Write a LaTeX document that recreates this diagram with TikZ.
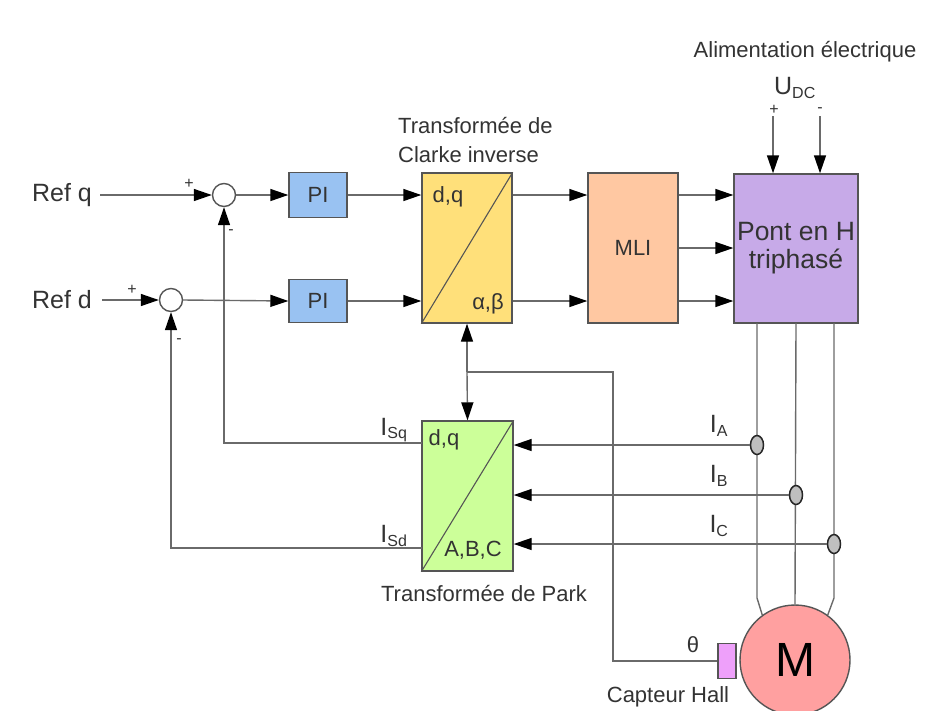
\documentclass[tikz,border=0pt]{standalone}
\usepackage{fontspec}
\setmainfont{Liberation Sans}
\usetikzlibrary{arrows.meta,shapes.geometric}
\definecolor{linegray}{HTML}{6A6A6A}
\definecolor{boxgray}{HTML}{555555}
\definecolor{txt}{HTML}{333333}
\definecolor{piblue}{HTML}{99C2F2}
\definecolor{clarkey}{HTML}{FFE07A}
\definecolor{mlipeach}{HTML}{FFC8A2}
\definecolor{pontviolet}{HTML}{C7AAE8}
\definecolor{parkgreen}{HTML}{CCFF99}
\definecolor{motorred}{HTML}{FFA0A0}
\definecolor{hallviolet}{HTML}{EEA0FA}
\begin{document}
\begin{tikzpicture}[x=1pt,y=-1pt,
  line/.style={draw=linegray, line width=1.4pt},
  arr/.style={line, -{Triangle[length=18pt,width=12pt,fill=black,color=black]}},
  blk/.style={draw=boxgray, line width=1.4pt, inner sep=0pt, text=txt},
  lbl/.style={text=txt, inner sep=0pt, font=\fontsize{22}{26}\selectfont},
  big/.style={text=txt, inner sep=0pt, font=\fontsize{25}{29}\selectfont},
  sumc/.style={circle, draw=boxgray, fill=white, line width=1.4pt, minimum size=23pt, inner sep=0pt},
  sensor/.style={ellipse, draw=black!85, fill=gray!50, line width=1.5pt, minimum width=13pt, minimum height=19pt, inner sep=0pt}]
\useasboundingbox (0,0) rectangle (925,710);

% inputs and summers
\node[big] (refq) at (62,195) {Ref q};
\node[big] (refd) at (62,300) {Ref d};
\node[sumc] (sq) at (224,195) {};
\node[sumc] (sd) at (171,300) {};
\node[lbl, font=\fontsize{16}{18}\selectfont] (pq) at (189,184) {+};
\node[lbl, font=\fontsize{16}{18}\selectfont] (mq) at (231,232) {-};
\node[lbl, font=\fontsize{16}{18}\selectfont] (pd) at (132,290) {+};
\node[lbl, font=\fontsize{16}{18}\selectfont] (md) at (179,341) {-};

% blocks
\node[blk, fill=piblue, minimum width=58pt, minimum height=45pt, font=\fontsize{22}{26}\selectfont] (piq) at (318,195) {PI};
\node[blk, fill=piblue, minimum width=58pt, minimum height=43pt, font=\fontsize{22}{26}\selectfont] (pid) at (318,301) {PI};
\node[blk, fill=clarkey, minimum width=90pt, minimum height=150pt] (clarke) at (467,248) {};
\node[blk, fill=mlipeach, minimum width=90pt, minimum height=150pt, font=\fontsize{22}{26}\selectfont] (mli) at (633,248) {MLI};
\node[blk, fill=pontviolet, minimum width=124pt, minimum height=149pt, align=center, font=\fontsize{26.5}{28}\selectfont] (pont) at (796,248.5) {Pont en H\\triphasé};
\node[blk, fill=parkgreen, minimum width=91pt, minimum height=150pt] (park) at (467.5,496) {};
\draw[draw=boxgray, line width=1.1pt] (clarke.south west) -- (clarke.north east);
\draw[draw=boxgray, line width=1.1pt] (park.south west) -- (park.north east);
\node[lbl] (cdq) at (448,197) {d,q};
\node[lbl] (cab) at (488,304) {α,β};
\node[lbl] (kdq) at (444,440) {d,q};
\node[lbl] (kabc) at (473,550) {A,B,C};

\node[lbl, anchor=west, align=left, font=\fontsize{22}{29}\selectfont] (tclarke) at (398,140) {Transformée de\\Clarke inverse};
\node[lbl] (tpark) at (484,593) {Transformée de Park};
\node[lbl] (talim) at (805,52) {Alimentation électrique};
\node[big] (udc) at (795,88) {U\textsubscript{\fontsize{16}{18}\selectfont DC}};
\node[lbl, font=\fontsize{16}{18}\selectfont] (up) at (774,110) {+};
\node[lbl, font=\fontsize{16}{18}\selectfont] (um) at (820,110) {-};

% forward path
\draw[arr] (refq.east) ++(8,0) -- (sq.west);
\draw[arr] (refd.east) ++(10,0) -- (sd.west);
\draw[arr] (sq.east) -- (piq.west);
\draw[arr] (sd.east) -- (pid.west);
\draw[arr] (piq.east) -- (piq -| clarke.west);
\draw[arr] (pid.east) -- (pid -| clarke.west);
\draw[arr] (clarke.east |- piq) -- (mli.west |- piq);
\draw[arr] (clarke.east |- pid) -- (mli.west |- pid);
\draw[arr] (mli.east |- piq) -- (pont.west |- piq);
\draw[arr] (mli.east) -- (pont.west |- mli);
\draw[arr] (mli.east |- pid) -- (pont.west |- pid);

% DC supply
\coordinate (u1) at (773,116);
\coordinate (u2) at (820,116);
\draw[arr] (u1) -- (u1 |- pont.north);
\draw[arr] (u2) -- (u2 |- pont.north);

% motor and phases
\node[circle, draw=boxgray, fill=motorred, line width=1.4pt, minimum size=110pt, inner sep=0pt, font=\fontsize{48}{50}\selectfont] (motor) at (795,660) {M};
\coordinate (p1) at (757,323);
\coordinate (p2) at (796,323);
\coordinate (p3) at (834,323);
\draw[line] (p1) -- (757,598) -- (motor.126);
\draw[line] (p2) -- (motor.north);
\draw[line] (p3) -- (834,598) -- (motor.54);

% current sensors
\node[sensor] (sa) at (757,445) {};
\node[sensor] (sb) at (796,495) {};
\node[sensor] (sc) at (834,544) {};
\draw[arr] (sa.west) -- (sa -| park.east);
\draw[arr] (sb.west) -- (sb -| park.east);
\draw[arr] (sc.west) -- (sc -| park.east);
\node[big] (la) at (719,426) {I\textsubscript{\fontsize{16}{18}\selectfont A}};
\node[big] (lb) at (719,476) {I\textsubscript{\fontsize{16}{18}\selectfont B}};
\node[big] (lc) at (719,526) {I\textsubscript{\fontsize{16}{18}\selectfont C}};

% feedback
\coordinate (isq) at (422,443);
\coordinate (isd) at (422,548);
\draw[arr] (isq) -| (sq.south);
\draw[arr] (isd) -| (sd.south);
\node[big] (lsq) at (394,430) {I\textsubscript{\fontsize{16}{18}\selectfont Sq}};
\node[big] (lsd) at (394,536) {I\textsubscript{\fontsize{16}{18}\selectfont Sd}};

% Hall sensor
\node[draw=boxgray, fill=hallviolet, line width=1.4pt, minimum width=18pt, minimum height=35pt, inner sep=0pt] (hall) at (727,661) {};
\node[lbl] (theta) at (693,645) {θ};
\node[lbl] (thall) at (668,697) {Capteur Hall};
\coordinate (j) at (467,372);
\draw[line] (hall.west) -- (613,661) -- (613,372) -- (j);
\draw[arr] (j) -- (clarke.south);
\draw[arr] (j) -- (park.north);
\end{tikzpicture}
\end{document}
